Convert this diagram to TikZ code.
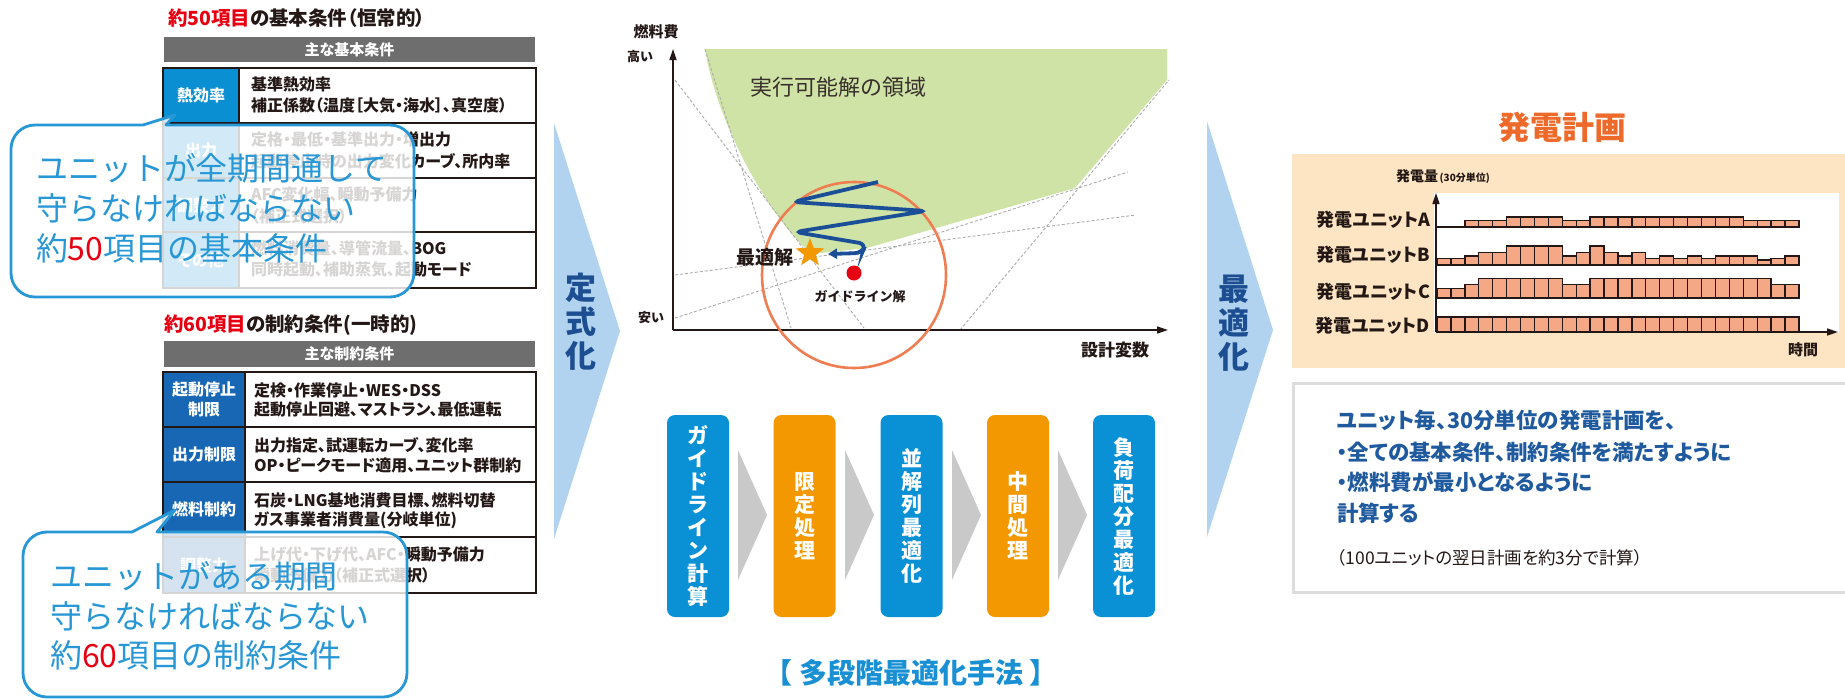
\documentclass[tikz,border=0pt]{standalone}
\usepackage{fontspec}
\setmainfont{Noto Sans CJK JP}
\newfontfamily\pfont{Noto Sans CJK JP}[RawFeature=+palt]
\usetikzlibrary{shapes.geometric,arrows.meta}
\definecolor{hdrgray}{HTML}{6E6E6E}
\definecolor{cellblueA}{HTML}{0A8FD3}
\definecolor{cellblueB}{HTML}{1767B4}
\definecolor{calloutblue}{HTML}{2797D5}
\definecolor{titlered}{HTML}{E60012}
\definecolor{txtdark}{HTML}{231815}
\definecolor{chevblue}{HTML}{B1D3F0}
\definecolor{chevtext}{HTML}{1C4E91}
\definecolor{boxblue}{HTML}{0A91D5}
\definecolor{boxorange}{HTML}{F39800}
\definecolor{arrgray}{HTML}{C9C9C9}
\definecolor{feasgreen}{HTML}{CFE3A6}
\definecolor{circorange}{HTML}{EE7D52}
\definecolor{zigblue}{HTML}{1A4E96}
\definecolor{staror}{HTML}{F39800}
\definecolor{dotred}{HTML}{E50012}
\definecolor{beige}{HTML}{FDE4C2}
\definecolor{barfill}{HTML}{F4A886}
\definecolor{planorange}{HTML}{EE6A2B}
\definecolor{plantext}{HTML}{1F5A9E}
\definecolor{boxline}{HTML}{DCDCDC}
\definecolor{methodblue}{HTML}{1A90D4}
\newcommand{\fsz}[2]{\fontsize{#1pt}{#2pt}\selectfont}
\begin{document}
\begin{tikzpicture}[x=1pt,y=-1pt,
  every node/.style={inner sep=0pt,outer sep=0pt},
  ttl/.style={anchor=west,font=\pfont\bfseries\fsz{19.5}{24},text=txtdark},
  hdr/.style={font=\pfont\bfseries\fsz{15}{18},text=white},
  tbl/.style={draw=txtdark,line width=1.4pt},
  cellL/.style={font=\pfont\bfseries\fsz{16}{20},text=white,align=center},
  cellR/.style={anchor=west,font=\pfont\bfseries\fsz{16}{19},text=txtdark},
  callout/.style={draw=calloutblue,line width=2.8pt,fill=white,fill opacity=0.82,line join=round},
  ctext/.style={anchor=west,font=\fsz{32}{38},text=calloutblue},
  chev/.style={fill=chevblue},
  chevtxt/.style={font=\bfseries\fsz{31}{34},text=chevtext,align=center},
  stage/.style={rounded corners=8pt,minimum width=62pt,minimum height=202pt,font=\bfseries\fsz{21}{23},text=white,align=center},
  sarrow/.style={fill=arrgray},
  dline/.style={draw=gray!65,line width=0.9pt,dash pattern=on 3pt off 2pt},
  axis/.style={draw=txtdark,line width=1.6pt,-{Triangle[length=11pt,width=7pt]}},
  clab/.style={font=\bfseries\fsz{15}{18},text=txtdark},
  bar/.style={fill=barfill,draw=txtdark,line width=1.3pt},
  ulab/.style={anchor=east,font=\pfont\bfseries\fsz{18}{21},text=txtdark},
  ptext/.style={anchor=west,font=\pfont\bfseries\fsz{21.5}{24},text=plantext}]
\useasboundingbox[fill=white] (0,0) rectangle (1845,699);

% ---------------- table 1 ----------------
\node[ttl] (title1) at (168,18) {{\color{titlered}約50項目}の基本条件（恒常的）};
\fill[hdrgray] (164,37) rectangle (535,62);
\node[hdr] (t1h) at (349.5,49.5) {主な基本条件};
\fill[cellblueA] (163,68) rectangle (239,288);
\draw[tbl] (163,68) rectangle (536,288);
\draw[tbl] (239,68) -- (239,288);
\foreach \yy in {123,178,232} \draw[tbl] (163,\yy) -- (536,\yy);
\node[cellL] (t1l1) at (201,95.5) {熱効率};
\node[cellL] (t1l2) at (201,150.5) {出力};
\node[cellL] (t1l3) at (201,205) {調整力};
\node[cellL] (t1l4) at (201,260) {その他};
\node[cellR] (t1r1a) at (251,84) {基準熱効率};
\node[cellR] (t1r1b) at (251,106) {補正係数（温度［大気・海水］、真空度）};
\node[cellR] (t1r2a) at (251,139) {定格・最低・基準出力・増出力};
\node[cellR] (t1r2b) at (251,161) {起動停止時の出力変化カーブ、所内率};
\node[cellR] (t1r3a) at (251,194) {AFC変化幅、瞬動予備力};
\node[cellR] (t1r3b) at (251,216) {（補正式選択）};
\node[cellR] (t1r4a) at (251,248) {燃料消費量、導管流量、BOG};
\node[cellR] (t1r4b) at (251,270) {同時起動、補助蒸気、起動モード};

% ---------------- table 2 ----------------
\node[ttl] (title2) at (164,325) {{\color{titlered}約60項目}の制約条件(一時的)};
\fill[hdrgray] (164,341) rectangle (535,367);
\node[hdr] (t2h) at (349.5,354) {主な制約条件};
\fill[cellblueB] (163,372) rectangle (245,593);
\draw[tbl] (163,372) rectangle (536,593);
\draw[tbl] (245,372) -- (245,593);
\foreach \yy in {427,482,537} \draw[tbl] (163,\yy) -- (536,\yy);
\node[cellL] (t2l1) at (204,399.5) {起動停止\\制限};
\node[cellL] (t2l2) at (204,454.5) {出力制限};
\node[cellL] (t2l3) at (204,509.5) {燃料制約};
\node[cellL] (t2l4) at (204,565) {調整力};
\node[cellR] (t2r1a) at (254,390) {定検・作業停止・WES・DSS};
\node[cellR] (t2r1b) at (254,410) {起動停止回避、マストラン、最低運転};
\node[cellR] (t2r2a) at (254,445) {出力指定、試運転カーブ、変化率};
\node[cellR] (t2r2b) at (254,465) {OP・ピークモード適用、ユニット群制約};
\node[cellR] (t2r3a) at (254,500) {石炭・LNG基地消費目標、燃料切替};
\node[cellR] (t2r3b) at (254,520) {ガス事業者消費量(分岐単位)};
\node[cellR] (t2r4a) at (254,555) {上げ代・下げ代、AFC・瞬動予備力};
\node[cellR] (t2r4b) at (254,575) {瞬動予備力（補正式選択）};

% ---------------- callouts ----------------
\draw[callout] (166,125) -- (390,125) arc[start angle=270,end angle=360,radius=24]
  -- (414,273) arc[start angle=0,end angle=90,radius=24]
  -- (35,297) arc[start angle=90,end angle=180,radius=24]
  -- (11,149) arc[start angle=180,end angle=270,radius=24]
  -- (143,125) -- (175,115) -- cycle;
\node[ctext] (c1a) at (36,168) {ユニットが全期間通して};
\node[ctext] (c1b) at (36,208) {守らなければならない};
\node[ctext] (c1c) at (36,248) {約{\color{titlered}50}項目の基本条件};

\draw[callout] (157,532) -- (383,532) arc[start angle=270,end angle=360,radius=24]
  -- (407,673) arc[start angle=0,end angle=90,radius=24]
  -- (47,697) arc[start angle=90,end angle=180,radius=24]
  -- (23,556) arc[start angle=180,end angle=270,radius=24]
  -- (132,532) -- (175,510) -- cycle;
\node[ctext] (c2a) at (50,576) {ユニットがある期間};
\node[ctext] (c2b) at (50,616) {守らなければならない};
\node[ctext] (c2c) at (50,655) {約{\color{titlered}60}項目の制約条件};

% ---------------- chevrons ----------------
\fill[chev] (554,123) -- (620,331) -- (554,539) -- cycle;
\node[chevtxt] (chev1) at (581,322) {定\\式\\化};
\fill[chev] (1207,121) -- (1273,330) -- (1207,537) -- cycle;
\node[chevtxt] (chev2) at (1234,323) {最\\適\\化};

% ---------------- chart ----------------
\fill[feasgreen] (705,49) -- (1167,49) -- (1167,80) -- (1075,188) -- (867,248) -- (812,254)
  .. controls (775,225) and (718,130) .. (705,49) -- cycle;
\draw[dline] (675,80) -- (864,328);
\draw[dline] (705,49) -- (791,328);
\draw[dline] (675,318) -- (1128,172);
\draw[dline] (675,275) -- (1136,215);
\draw[dline] (960,330) -- (1169,80);
\coordinate (org) at (673,330);
\coordinate (ytop) at (673,49);
\coordinate (xend) at (1168,330);
\draw[axis] (org) -- (ytop);
\draw[axis] (org) -- (xend);
\node[clab] (fuel) at (656,32) {燃料費};
\node[clab,font=\bfseries\fsz{13}{15}] (high) at (640,57) {高い};
\node[clab,font=\bfseries\fsz{13}{15}] (low) at (651,318) {安い};
\node[clab,font=\bfseries\fsz{17}{20}] (dvar) at (1115,350) {設計変数};
\node[font=\fsz{22}{26},text=txtdark!90] (feas) at (838,87) {実行可能解の領域};
\draw[circorange,line width=2.6pt] (854,275) ellipse [x radius=92, y radius=93];
\draw[zigblue,line width=3.8pt,rounded corners=7pt,-{Triangle[length=9pt,width=10pt]}]
  (878,182) -- (793,202) -- (926,211) -- (795,232) -- (866,244) -- (862,253) -- (828,254);
\node[star,star points=5,star point ratio=2.4,fill=staror,minimum size=30pt] (opt) at (810,253) {};
\node[clab,font=\bfseries\fsz{19}{22}] (optlab) at (765,257) {最適解};
\node[circle,fill=dotred,minimum size=15pt] (gdot) at (854,273) {};
\node[clab,font=\bfseries\fsz{13}{15}] (glab) at (860,297) {ガイドライン解};

% ---------------- multi-stage boxes ----------------
\node[stage,fill=boxblue] (s1) at (698,516) {ガ\\イ\\ド\\ラ\\イ\\ン\\計\\算};
\node[stage,fill=boxorange] (s2) at (804.5,516) {限\\定\\処\\理};
\node[stage,fill=boxblue] (s3) at (911.5,516) {並\\解\\列\\最\\適\\化};
\node[stage,fill=boxorange] (s4) at (1018,516) {中\\間\\処\\理};
\node[stage,fill=boxblue] (s5) at (1124,516) {負\\荷\\配\\分\\最\\適\\化};
\fill[sarrow] (738,450) -- (767,515) -- (738,580) -- cycle;
\fill[sarrow] (845,450) -- (874,515) -- (845,580) -- cycle;
\fill[sarrow] (952,450) -- (981,515) -- (952,580) -- cycle;
\fill[sarrow] (1058,450) -- (1087,515) -- (1058,580) -- cycle;
\node[font=\bfseries\fsz{28}{32},text=methodblue] (method) at (911,673) {【 多段階最適化手法 】};

% ---------------- generation plan ----------------
\node[font=\bfseries\fsz{32}{36},text=planorange] (plan) at (1562,127) {発電計画};
\fill[beige] (1292,154) rectangle (1845,368);
\fill[white] (1434,193) rectangle (1839,333);
\node[anchor=west,text=txtdark] (gen) at (1396,177) {{\pfont\bfseries\fsz{14}{16}発電量}\,{\pfont\bfseries\fsz{10}{12}(30分単位)}};
\draw[bar] (1436,227) -- (1437,227);
\foreach \h [count=\i from 0] in {0,0,6.7,6.7,6.7,10,10,10,10,6.7,6.7,10,10,10,10,10,10,10,10,10,10,10,6.7,6.7,6.7,6.7}
  \filldraw[bar] ({1437+\i*13.92},227) rectangle ++(13.92,-\h);
\foreach \h [count=\i from 0] in {6.7,6.7,9,12.7,12.7,19,19,19,19,9,12.7,19,12.7,9,12.7,6.7,9,6.7,9,6.7,9,9,9,5,6.7,9}
  \filldraw[bar] ({1437+\i*13.92},265) rectangle ++(13.92,-\h);
\foreach \h [count=\i from 0] in {9.3,9.3,13.3,19.3,19.3,19.3,19.3,19.3,19.3,13.3,13.3,19.3,19.3,19.3,19.3,19.3,19.3,19.3,19.3,19.3,19.3,19.3,19.3,19.3,13.3,13.3}
  \filldraw[bar] ({1437+\i*13.92},298) rectangle ++(13.92,-\h);
\foreach \i in {0,...,25}
  \filldraw[bar] ({1437+\i*13.92},332) rectangle ++(13.92,-15);
\coordinate (porg) at (1436,332);
\coordinate (pytop) at (1436,193);
\coordinate (pxend) at (1838,332);
\draw[axis,line width=1.5pt] (porg) -- (pytop);
\draw[axis,line width=1.5pt] (porg) -- (pxend);
\node[ulab] (ua) at (1430,220) {発電ユニットA};
\node[ulab] (ub) at (1430,255) {発電ユニットB};
\node[ulab] (uc) at (1430,292) {発電ユニットC};
\node[ulab] (ud) at (1430,326) {発電ユニットD};
\node[clab] (time) at (1803,350) {時間};

% ---------------- description ----------------
\draw[draw=boxline,line width=3pt] (1293,383) rectangle (1850,592);
\node[ptext] (p1) at (1337,420) {ユニット毎、30分単位の発電計画を、};
\node[ptext] (p2) at (1337,452) {・全ての基本条件、制約条件を満たすように};
\node[ptext] (p3) at (1337,482) {・燃料費が最小となるように};
\node[ptext] (p4) at (1337,513) {計算する};
\node[anchor=west,font=\pfont\fsz{17.5}{20},text=txtdark] (p5) at (1337,558) {（100ユニットの翌日計画を約3分で計算）};
\end{tikzpicture}
\end{document}
